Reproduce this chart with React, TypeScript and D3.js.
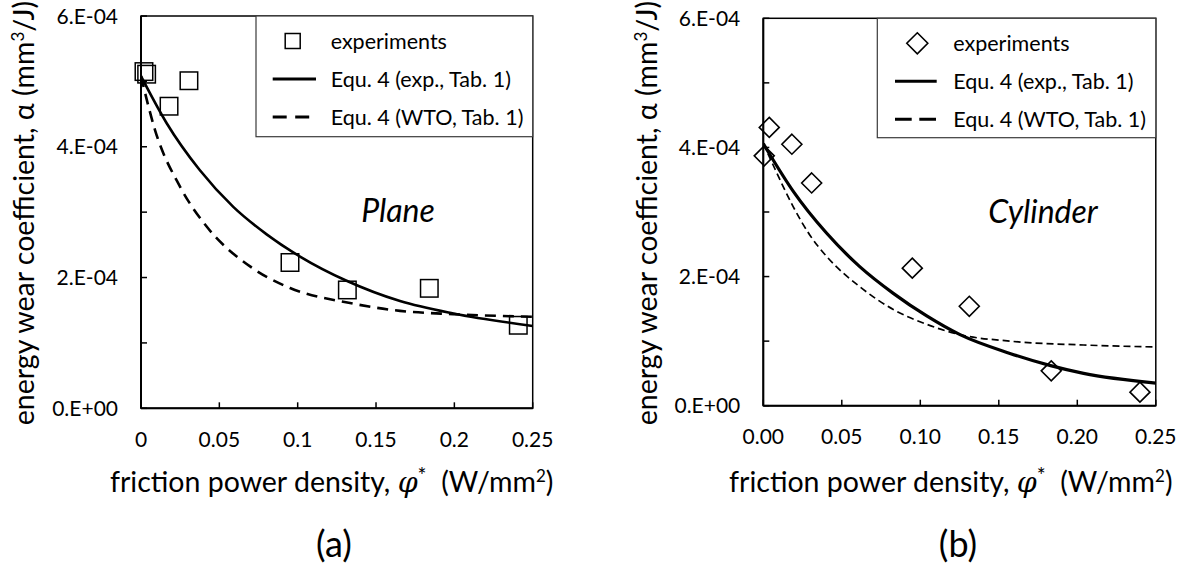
import React from "react";
import * as d3 from "d3";

// ---------- data ----------
const xTickValues = [0, 0.05, 0.1, 0.15, 0.2, 0.25];
const xTickLabelsA = ["0", "0.05", "0.1", "0.15", "0.2", "0.25"];
const xTickLabelsB = ["0.00", "0.05", "0.10", "0.15", "0.20", "0.25"];
const yMinorTicks = [0, 1e-4, 2e-4, 3e-4, 4e-4, 5e-4, 6e-4];
const yLabelValues = [0, 2e-4, 4e-4, 6e-4];
const yTickLabels = ["0.E+00", "2.E-04", "4.E-04", "6.E-04"];

// Plane (a)
const planeExpX = [0.0019, 0.0036, 0.0179, 0.0306, 0.0951, 0.1317, 0.184, 0.2408];
const planeExpY = [5.15e-4, 5.11e-4, 4.62e-4, 5.01e-4, 2.23e-4, 1.81e-4, 1.835e-4, 1.27e-4];
const planeFitX = [0, 0.0164, 0.0376, 0.0589, 0.0802, 0.1015, 0.1312, 0.1653, 0.1993, 0.25];
const planeFitY = [5.08e-4, 4.36e-4, 3.64e-4, 3.08e-4, 2.66e-4, 2.32e-4, 1.95e-4, 1.64e-4, 1.45e-4, 1.26e-4];
const planeWtoX = [0, 0.0089, 0.0249, 0.0419, 0.0696, 0.0951, 0.1334, 0.1653, 0.1993, 0.25];
const planeWtoY = [5.08e-4, 4.26e-4, 3.39e-4, 2.78e-4, 2.17e-4, 1.84e-4, 1.61e-4, 1.49e-4, 1.44e-4, 1.4e-4];

// Cylinder (b)
const cylExpX = [0.0006, 0.0038, 0.0182, 0.0308, 0.0949, 0.1312, 0.1834, 0.2399];
const cylExpY = [3.87e-4, 4.31e-4, 4.05e-4, 3.45e-4, 2.13e-4, 1.54e-4, 0.54e-4, 0.21e-4];
const cylFitX = [0, 0.0032, 0.0191, 0.0404, 0.0616, 0.0828, 0.1041, 0.1253, 0.1571, 0.183, 0.204, 0.25];
const cylFitY = [4.06e-4, 3.93e-4, 3.32e-4, 2.67e-4, 2.15e-4, 1.74e-4, 1.39e-4, 1.1e-4, 0.81e-4, 0.62e-4, 0.5e-4, 0.35e-4];
const cylWtoX = [0, 0.0064, 0.0191, 0.0297, 0.0404, 0.0616, 0.0828, 0.1041, 0.1253, 0.1571, 0.204, 0.25];
const cylWtoY = [4.06e-4, 3.72e-4, 3.08e-4, 2.64e-4, 2.31e-4, 1.84e-4, 1.49e-4, 1.26e-4, 1.1e-4, 1.0e-4, 0.94e-4, 0.91e-4];

const legendLabels = ["experiments", "Equ. 4 (exp., Tab. 1)", "Equ. 4 (WTO, Tab. 1)"];

const FONT = "Lato, 'Open Sans', sans-serif";

type PanelProps = {
  left: number; right: number; top: number; bottom: number;
  xLabels: string[];
  expX: number[]; expY: number[];
  fitX: number[]; fitY: number[];
  wtoX: number[]; wtoY: number[];
  marker: "square" | "diamond";
  fitWidth: number; wtoWidth: number; wtoDash: string;
  legendLeft: number; legendBottom: number;
  legendMarkerX: number; legendLineX0: number; legendLineX1: number; legendTextX: number;
  legendDash: string; legendLineWidth: number;
  shapeLabel: string; shapeX: number; shapeY: number;
  yTitleX: number; xTitleX: number; panelLabel: string; panelLabelX: number;
  clipId: string;
};

function Marker({ type, cx, cy, size }: { type: "square" | "diamond"; cx: number; cy: number; size: number }) {
  if (type === "square") {
    return <rect x={cx - size / 2} y={cy - size / 2} width={size} height={size} fill="none" stroke="#000" strokeWidth={1.5} />;
  }
  const h = size / 2;
  return <path d={`M${cx},${cy - h}L${cx + h},${cy}L${cx},${cy + h}L${cx - h},${cy}Z`} fill="none" stroke="#000" strokeWidth={1.6} />;
}

function Panel(p: PanelProps) {
  const x = d3.scaleLinear().domain([0, 0.25]).range([p.left, p.right]);
  const y = d3.scaleLinear().domain([0, 6e-4]).range([p.bottom, p.top]);
  const line = d3.line<[number, number]>().x(d => x(d[0])).y(d => y(d[1])).curve(d3.curveMonotoneX);
  const fit = line(p.fitX.map((v, i) => [v, p.fitY[i]]) as [number, number][]) || "";
  const wto = line(p.wtoX.map((v, i) => [v, p.wtoY[i]]) as [number, number][]) || "";
  const rowY = [p.top + 25, p.top + 63, p.top + 101];
  return (
    <g>
      <defs>
        <clipPath id={p.clipId}>
          <rect x={p.left} y={p.top} width={p.right - p.left} height={p.bottom - p.top} />
        </clipPath>
      </defs>
      {/* frame */}
      <rect x={p.left} y={p.top} width={p.right - p.left} height={p.bottom - p.top} fill="none" stroke="#000" strokeWidth={1.5} />
      <line x1={p.left} x2={p.left} y1={p.top} y2={p.bottom} stroke="#000" strokeWidth={2} />
      <line x1={p.left} x2={p.right} y1={p.bottom} y2={p.bottom} stroke="#000" strokeWidth={2} />
      {/* y ticks */}
      {yMinorTicks.map(t => (
        <line key={"yt" + t} x1={p.left} x2={p.left + 6} y1={y(t)} y2={y(t)} stroke="#000" strokeWidth={1.5} />
      ))}
      {yLabelValues.map((t, i) => (
        <text key={"yl" + t} x={p.left - 23} y={y(t)} dy="0.36em" textAnchor="end" fontSize={21} fontFamily={FONT} fill="#000">{yTickLabels[i]}</text>
      ))}
      {/* x ticks */}
      {xTickValues.map((t, i) => (
        <g key={"xt" + t}>
          <line x1={x(t)} x2={x(t)} y1={p.bottom} y2={p.bottom - 6} stroke="#000" strokeWidth={1.5} />
          <text x={x(t)} y={p.bottom + 38.5} textAnchor="middle" fontSize={21} fontFamily={FONT} fill="#000">{p.xLabels[i]}</text>
        </g>
      ))}
      {/* curves */}
      <g clipPath={`url(#${p.clipId})`}>
        <path d={wto} fill="none" stroke="#000" strokeWidth={p.wtoWidth} strokeDasharray={p.wtoDash} />
        <path d={fit} fill="none" stroke="#000" strokeWidth={p.fitWidth} />
      </g>
      {/* markers */}
      {p.expX.map((v, i) => (
        <Marker key={"m" + i} type={p.marker} cx={x(v)} cy={y(p.expY[i])} size={p.marker === "square" ? 17.5 : 20} />
      ))}
      {/* legend */}
      <rect x={p.legendLeft} y={p.top} width={p.right - p.legendLeft} height={p.legendBottom - p.top} fill="#fff" stroke="#3a3a3a" strokeWidth={1.2} />
      <Marker type={p.marker} cx={p.legendMarkerX} cy={rowY[0]} size={p.marker === "square" ? 15 : 21} />
      <line x1={p.legendLineX0} x2={p.legendLineX1} y1={rowY[1]} y2={rowY[1]} stroke="#000" strokeWidth={p.legendLineWidth} />
      <line x1={p.legendLineX0} x2={p.legendLineX1} y1={rowY[2]} y2={rowY[2]} stroke="#000" strokeWidth={p.legendLineWidth} strokeDasharray={p.legendDash} />
      {legendLabels.map((l, i) => (
        <text key={l} x={p.legendTextX} y={rowY[i]} dy="0.36em" fontSize={21.5} fontFamily={FONT} fill="#000">{l}</text>
      ))}
      {/* shape label */}
      <text x={p.shapeX} y={p.shapeY} textAnchor="middle" fontSize={32} fontStyle="italic" fontFamily={FONT} fill="#000">{p.shapeLabel}</text>
      {/* y title */}
      <text transform={`translate(${p.yTitleX},213) rotate(-90)`} textAnchor="middle" fontSize={28.5} fontFamily={FONT} fill="#000">
        energy wear coefficient, α (mm<tspan dy={-10} fontSize={17}>3</tspan><tspan dy={10}>/J)</tspan>
      </text>
      {/* x title */}
      <text x={p.xTitleX} y={491.5} textAnchor="middle" fontSize={28.5} fontFamily={FONT} fill="#000">
        friction power density, <tspan fontStyle="italic" fontFamily="'DejaVu Serif', serif" fontWeight={300}>φ</tspan><tspan dy={-9} fontSize={21}>*</tspan><tspan dy={9}>{"\u00a0\u00a0"}(W/mm</tspan><tspan dy={-10} fontSize={17}>2</tspan><tspan dy={10}>)</tspan>
      </text>
      {/* panel label */}
      <text x={p.panelLabelX} y={557} textAnchor="middle" fontSize={36} fontFamily={FONT} fill="#000">{p.panelLabel}</text>
    </g>
  );
}

export default function App() {
  return (
    <svg width={1186} height={572} style={{ position: "absolute", left: 0, top: 0, background: "#fff" }}>
      <rect x={0} y={0} width={1186} height={572} fill="#fff" />
      <Panel
        left={141} right={532.7} top={16} bottom={408.3}
        xLabels={xTickLabelsA}
        expX={planeExpX} expY={planeExpY}
        fitX={planeFitX} fitY={planeFitY}
        wtoX={planeWtoX} wtoY={planeWtoY}
        marker="square" fitWidth={2.6} wtoWidth={2.6} wtoDash="11,7"
        legendLeft={256} legendBottom={136.7}
        legendMarkerX={292.7} legendLineX0={272.7} legendLineX1={316} legendTextX={330.7}
        legendDash="14,8.5" legendLineWidth={3}
        shapeLabel="Plane" shapeX={398} shapeY={221.7}
        yTitleX={34} xTitleX={331.7} panelLabel="(a)" panelLabelX={334}
        clipId="clipA"
      />
      <Panel
        left={763.3} right={1155.8} top={18.3} bottom={405.7}
        xLabels={xTickLabelsB}
        expX={cylExpX} expY={cylExpY}
        fitX={cylFitX} fitY={cylFitY}
        wtoX={cylWtoX} wtoY={cylWtoY}
        marker="diamond" fitWidth={3.2} wtoWidth={1.7} wtoDash="7,4"
        legendLeft={877.3} legendBottom={137.7}
        legendMarkerX={917.3} legendLineX0={895} legendLineX1={936.7} legendTextX={953.3}
        legendDash="16.7,7.6" legendLineWidth={3}
        shapeLabel="Cylinder" shapeX={1043} shapeY={222.7}
        yTitleX={657} xTitleX={950.8} panelLabel="(b)" panelLabelX={958}
        clipId="clipB"
      />
    </svg>
  );
}
